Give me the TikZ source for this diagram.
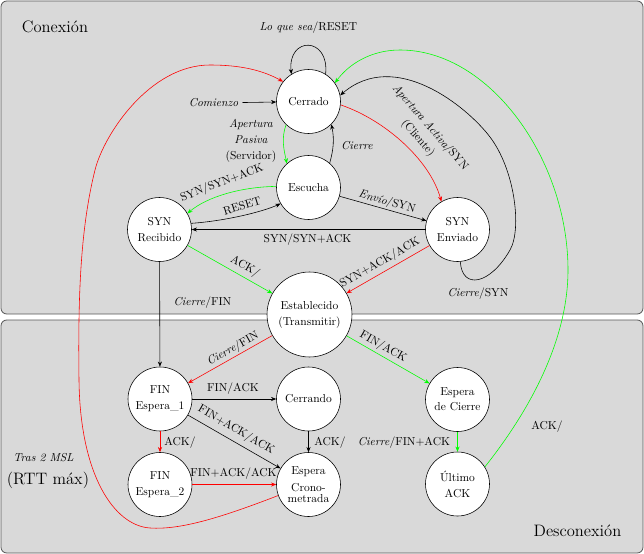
\documentclass[tikz,border=0pt]{standalone}
\usetikzlibrary{arrows.meta}
\begin{document}
\begin{tikzpicture}[x=0.86957pt, y=-0.86957pt,
  state/.style={circle, draw, fill=white, minimum size=55.65pt, inner sep=1pt, align=center, line width=0.5pt},
  edge/.style={-{Stealth[length=4.5pt,width=3.6pt]}, line width=0.5pt},
  panel/.style={draw=black!65, fill=gray!30, rounded corners=5pt, line width=0.7pt}
]
\useasboundingbox (0,0) rectangle (644,554);
\draw[panel] (1,1) rectangle (643,314);
\draw[panel] (1,320) rectangle (643,553);

% states
\node[state] (C) at (308.5,101.5) {Cerrado};
\node[state] (L) at (308.5,187.5) {Escucha};
\node[state] (SR) at (159.5,229.5) {SYN\\[2pt]Recibido};
\node[state] (SE) at (457.5,229.5) {SYN\\[2pt]Enviado};
\node[state, minimum size=73.9pt] (E) at (309.5,314.5) {Establecido\\[2pt](Transmitir)};
\node[state] (F1) at (160,399) {FIN\\[2pt]Espera\_1};
\node[state] (CG) at (308.5,399) {Cerrando};
\node[state] (F2) at (160,484.5) {FIN\\[2pt]Espera\_2};
\node[state] (TW) at (308.5,484.5) {Espera\\[2.5pt]Crono-\\[-2.5pt]metrada};
\node[state] (CW) at (457.5,399.5) {Espera\\[1pt]de Cierre};
\node[state] (LA) at (457.5,484) {Último\\[2pt]ACK};

% titles and labels
\node[font=\Large] (tc) at (55,27) {Conexión};
\node[font=\Large] (td) at (577.5,531) {Desconexión};
\node (lqs) at (308.5,28) {\textit{Lo que sea}/RESET};
\node (com) at (213.5,103) {\textit{Comienzo}};
\node[align=center] (ap) at (251,141) {\textit{Apertura}\\[2pt]\textit{Pasiva}\\[2pt](Servidor)};
\node (ci) at (357,146) {\textit{Cierre}};
\node[rotate=21] (l1) at (222,183) {SYN/SYN+ACK};
\node[rotate=17] (l2) at (242,206) {RESET};
\node[rotate=-15.6] (l3) at (387,202) {\textit{Envío}/SYN};
\node (l4) at (307.5,240) {SYN/SYN+ACK};
\node[rotate=-49, align=center] (l5) at (424,133) {\textit{Apertura Activa}/SYN\\[2pt](Cliente)};
\node (l6) at (478,294) {\textit{Cierre}/SYN};
\node[rotate=-29.5] (l7) at (245,267) {ACK/};
\node[rotate=29.5] (l8) at (380,263) {SYN+ACK/ACK};
\node (l9) at (202.5,303) {\textit{Cierre}/FIN};
\node[rotate=29.5] (l10) at (233,349) {\textit{Cierre}/FIN};
\node[rotate=-29.5] (l11) at (383,347) {FIN/ACK};
\node (l12) at (233,389) {FIN/ACK};
\node[rotate=-30] (l13) at (236,430) {FIN+ACK/ACK};
\node (l14) at (180,443) {ACK/};
\node (l15) at (330,443) {ACK/};
\node (l16) at (233.5,474) {FIN+ACK/ACK};
\node (l17) at (404,443) {\textit{Cierre}/FIN+ACK};
\node (l18) at (547,427) {ACK/};
\node (l19) at (43.5,458) {\textit{Tras 2 MSL}};
\node[font=\Large] (l20) at (48,480) {(RTT máx)};

% edges
\draw[edge] (C.58) .. controls +(4,-38) and +(-4,-38) .. (C.122);
\draw[edge] (com) -- (C);
\draw[edge, green] (C.226) .. controls +(-5,14) and +(-3,-14) .. (L.132);
\draw[edge] (L.49) .. controls +(4,-14) and +(3,14) .. (C.315);
\draw[edge, green] (L.178) .. controls (240,187) and (207,197) .. (SR.30);
\draw[edge] (SR.11) .. controls (225,221) and (262,212) .. (L.210);
\draw[edge] (L) -- (SE);
\draw[edge] (SE) -- (SR);
\draw[edge, red] (C.-6) .. controls (385,120) and (430,160) .. (SE.120);
\draw[edge] (SE.275) .. controls (462,290) and (490,285) .. (510,250)
  .. controls (522,229) and (515,170) .. (490,137)
  .. controls (467,106.6) and (395,48) .. (C.11);
\draw[edge, green] (LA.32) .. controls (530,410) and (568,340) .. (568,270)
  .. controls (568,160) and (490,50) .. (400,50)
  .. controls (370,50) and (348,65) .. (C.35);
\draw[edge, red] (TW.200) .. controls (220,518) and (180,530) .. (150,528)
  .. controls (114,525.6) and (80,475) .. (79,380)
  .. controls (78,300) and (80,230) .. (95,170)
  .. controls (104,134) and (150,65) .. (210,65)
  .. controls (240,65) and (262,70) .. (C.142);
\draw[edge, green] (SR) -- (E);
\draw[edge, red] (SE) -- (E);
\draw[edge] (SR) -- (F1);
\draw[edge, red] (E) -- (F1);
\draw[edge, green] (E) -- (CW);
\draw[edge] (F1) -- (CG);
\draw[edge] (F1) -- (TW);
\draw[edge] (CG) -- (TW);
\draw[edge, red] (F1) -- (F2);
\draw[edge, red] (F2) -- (TW);
\draw[edge, green] (CW) -- (LA);
\end{tikzpicture}
\end{document}
